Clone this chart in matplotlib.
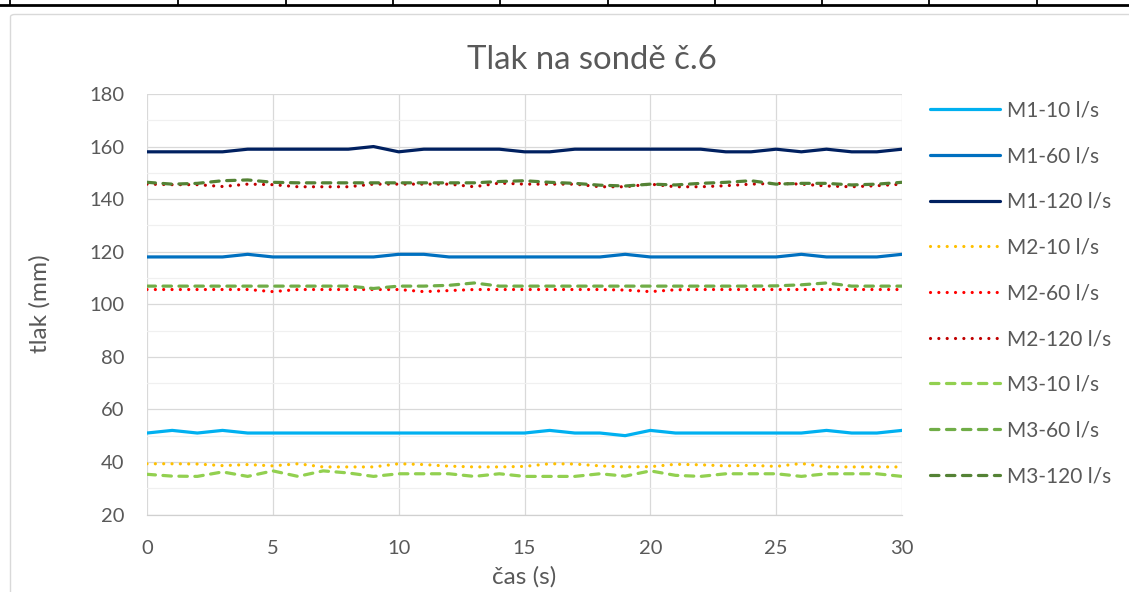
import matplotlib
matplotlib.use("Agg")
import matplotlib.pyplot as plt
from matplotlib.lines import Line2D
from matplotlib.patches import FancyBboxPatch
from matplotlib.ticker import MultipleLocator

plt.rcParams['font.family'] = ['Lato', 'DejaVu Sans']

# time axis (s)
cas = list(range(31))

# M1 series (solid)
m1_10 = [51, 52, 51, 52, 51, 51, 51, 51, 51, 51, 51, 51, 51, 51, 51, 51,
         52, 51, 51, 50, 52, 51, 51, 51, 51, 51, 51, 52, 51, 51, 52]
m1_60 = [118, 118, 118, 118, 119, 118, 118, 118, 118, 118, 119, 119, 118, 118, 118, 118,
         118, 118, 118, 119, 118, 118, 118, 118, 118, 118, 119, 118, 118, 118, 119]
m1_120 = [158, 158, 158, 158, 159, 159, 159, 159, 159, 160, 158, 159, 159, 159, 159, 158,
          158, 159, 159, 159, 159, 159, 159, 158, 158, 159, 158, 159, 158, 158, 159]

# M2 series (dotted)
m2_10 = [39.3, 39.3, 39.2, 38.6, 39.0, 38.5, 39.3, 38.1, 38.1, 38.1, 39.3, 39.0, 38.4, 38.1, 38.1, 38.3,
         39.3, 39.2, 38.5, 38.1, 38.2, 39.1, 38.9, 38.5, 38.7, 38.3, 39.4, 38.1, 38.1, 38.1, 38.1]
m2_60 = [105.6, 105.6, 105.6, 105.6, 105.6, 104.8, 105.6, 105.6, 105.6, 105.6, 105.6, 104.8, 105.2, 105.6, 105.6, 105.6,
         105.6, 105.6, 105.6, 105.4, 104.8, 105.5, 105.6, 105.6, 105.6, 105.6, 105.6, 105.6, 105.6, 105.6, 105.6]
m2_120 = [145.7, 145.5, 145.5, 144.8, 145.7, 145.5, 144.7, 144.7, 144.7, 145.7, 145.7, 145.7, 145.7, 144.7, 146.1, 145.7,
          145.7, 145.7, 144.7, 144.7, 145.7, 144.7, 144.7, 145.1, 145.7, 146.0, 145.7, 145.0, 144.7, 145.1, 145.7]

# M3 series (dashed)
m3_10 = [35.3, 34.6, 34.5, 36.2, 34.5, 36.6, 34.5, 36.6, 35.8, 34.5, 35.5, 35.5, 35.5, 34.5, 35.5, 34.5,
         34.5, 34.5, 35.5, 34.6, 36.6, 34.9, 34.5, 35.5, 35.5, 35.5, 34.5, 35.5, 35.5, 35.5, 34.5]
m3_60 = [106.9, 106.9, 106.9, 106.9, 106.9, 106.9, 106.9, 106.9, 106.9, 106.0, 106.9, 106.9, 107.2, 108.1, 106.9, 106.9,
         106.9, 106.9, 106.9, 106.9, 106.9, 106.9, 106.9, 106.9, 106.9, 107.0, 107.4, 108.1, 106.9, 106.9, 106.9]
m3_120 = [146.4, 145.7, 146.0, 147.0, 147.3, 146.4, 146.2, 146.2, 146.2, 146.2, 146.2, 146.2, 146.2, 146.2, 146.7, 147.0,
          146.4, 146.0, 145.3, 145.0, 145.7, 145.4, 146.0, 146.4, 147.0, 145.7, 146.0, 146.0, 145.4, 145.7, 146.4]

labels = ["M1-10 l/s", "M1-60 l/s", "M1-120 l/s",
          "M2-10 l/s", "M2-60 l/s", "M2-120 l/s",
          "M3-10 l/s", "M3-60 l/s", "M3-120 l/s"]
values = [m1_10, m1_60, m1_120, m2_10, m2_60, m2_120, m3_10, m3_60, m3_120]
colors = ["#00B0F0", "#0070C0", "#002060",
          "#FFC000", "#FF0000", "#C00000",
          "#92D050", "#70AD47", "#548235"]
DOT = (0, (0.01, 2.6))
DASH = (0, (2.65, 2.35))
styles = ["-", "-", "-", DOT, DOT, DOT, DASH, DASH, DASH]

W, H = 1129, 592
DPI = 100
fig = plt.figure(figsize=(W / DPI, H / DPI), dpi=DPI)
fig.patch.set_facecolor("white")
renderer = fig.canvas.get_renderer()


def fx(px):
    return px / W


def fy(py):
    return 1 - py / H


def size_for(text, width_px):
    """Font size (pt) giving the text the requested rendered width."""
    t = fig.text(0, 0, text, fontsize=10)
    w = t.get_window_extent(renderer).width
    t.remove()
    return 10 * width_px / w


def text_height(text, size):
    t = fig.text(0, 0, text, fontsize=size)
    h = t.get_window_extent(renderer).height
    t.remove()
    return h


fs_title = size_for("Tlak na sondě č.6", 250)
fs_tick = size_for("180", 35)
fs_axis = size_for("čas (s)", 64)
fs_leg = size_for("M1-60 l/s", 92)

# table edge above the chart
fig.add_artist(Line2D([0, 1], [fy(5), fy(5)], color="black", lw=2.0))
for xv in [10, 178, 286, 393, 500, 608, 715, 822, 929, 1037]:
    fig.add_artist(Line2D([fx(xv), fx(xv)], [fy(0), fy(5)], color="black", lw=1.3))

# chart frame
fig.add_artist(FancyBboxPatch((fx(10.5), fy(640)), fx(1200), fy(14.5) - fy(640),
                              boxstyle="round,pad=0,rounding_size=0.004",
                              transform=fig.transFigure, facecolor="none",
                              edgecolor="#D9D9D9", lw=1.0))

ax = fig.add_axes([fx(147), fy(514.5), fx(902) - fx(147), fy(94) - fy(514.5)])
ax.set_facecolor("none")

for ys, c, ls, lab in zip(values, colors, styles, labels):
    ax.plot(cas, ys, color=c, lw=2.3, linestyle=ls, label=lab,
            solid_capstyle="round", dash_capstyle="round",
            solid_joinstyle="round")

ax.set_xlim(0, 30)
ax.set_ylim(20, 180)
ax.xaxis.set_major_locator(MultipleLocator(5))
ax.yaxis.set_major_locator(MultipleLocator(20))
ax.yaxis.set_minor_locator(MultipleLocator(10))
ax.grid(which="major", color="#D9D9D9", lw=0.9, zorder=0)
ax.grid(which="minor", axis="y", color="#F0F0F0", lw=0.9, zorder=0)
ax.set_axisbelow(True)
for s in ["top", "right", "left"]:
    ax.spines[s].set_visible(False)
ax.spines["bottom"].set_color("#D0D0D0")
ax.spines["bottom"].set_linewidth(0.9)

tc = "#595959"
ax.tick_params(axis="both", which="both", length=0, labelsize=fs_tick, labelcolor=tc)
ax.tick_params(axis="x", pad=18)
ax.tick_params(axis="y", pad=16.5)

fig.text(fx(592), fy(60), "Tlak na sondě č.6", ha="center", va="center",
         fontsize=fs_title, color=tc)
fig.text(fx(40), fy(304), "tlak (mm)", ha="center", va="center", rotation=90,
         fontsize=fs_axis, color=tc)
fig.text(fx(524.5), fy(577), "čas (s)", ha="center", va="center",
         fontsize=fs_axis, color=tc)

# legend rows: 45.7 px apart, first row centred at y = 110.5 px
px_per_pt = DPI / 72
fs_leg_px = fs_leg * px_per_pt
row_h = text_height("M1-60 l/s", fs_leg)
leg = ax.legend(loc="upper left",
                bbox_to_anchor=(fx(930), fy(110.5 - row_h / 2)),
                bbox_transform=fig.transFigure, frameon=False,
                fontsize=fs_leg, handlelength=70 / fs_leg_px,
                handletextpad=7 / fs_leg_px,
                labelspacing=(45.7 - row_h) / fs_leg_px,
                borderaxespad=0, borderpad=0)
for t in leg.get_texts():
    t.set_color(tc)

fig.savefig("out.png", dpi=DPI, facecolor="white")
